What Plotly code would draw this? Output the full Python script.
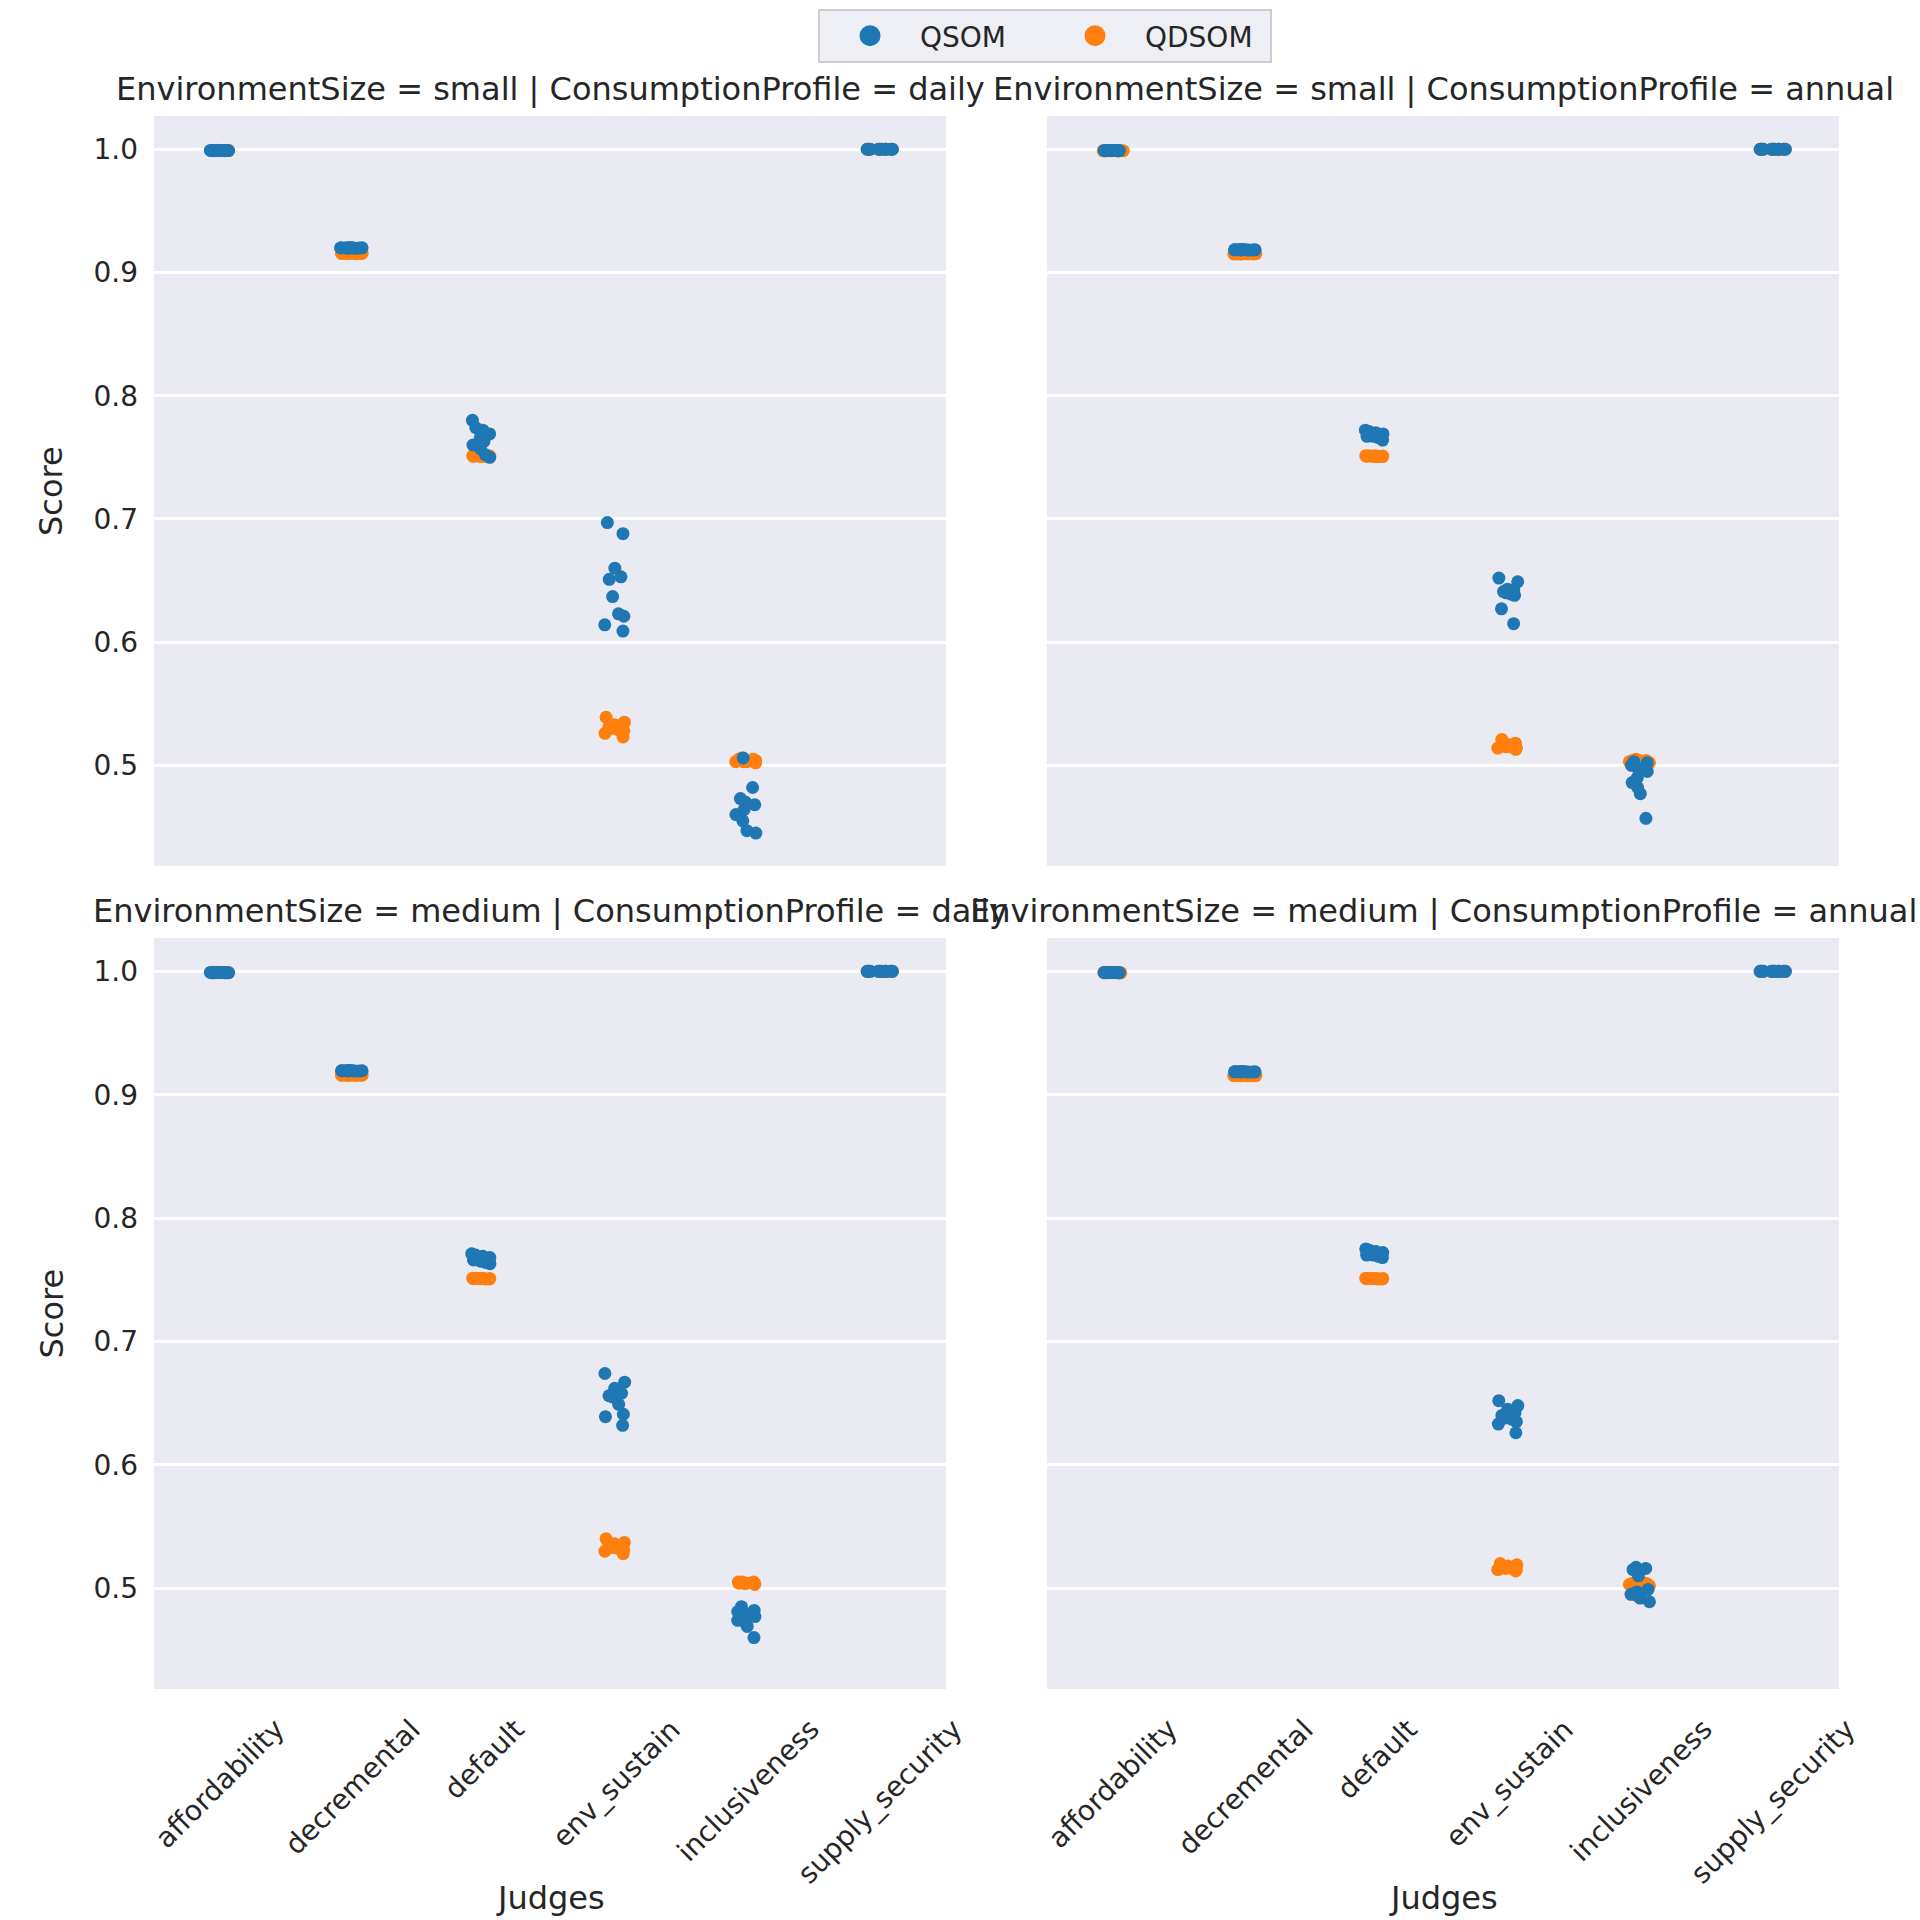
import plotly.graph_objects as go

# ---------------- data ----------------
judges = ["affordability", "decremental", "default", "env_sustain", "inclusiveness", "supply_security"]
algorithms = ["QSOM", "QDSOM"]
panel_titles = [
    "EnvironmentSize = small | ConsumptionProfile = daily",
    "EnvironmentSize = small | ConsumptionProfile = annual",
    "EnvironmentSize = medium | ConsumptionProfile = daily",
    "EnvironmentSize = medium | ConsumptionProfile = annual",
]
y_ticks = [0.5, 0.6, 0.7, 0.8, 0.9, 1.0]
y_tick_labels = ["0.5", "0.6", "0.7", "0.8", "0.9", "1.0"]

small_daily_qsom = {
    "affordability": [0.9990, 0.9989, 0.9991, 0.9990, 0.9988, 0.9990, 0.9991, 0.9989, 0.9990, 0.9988],
    "decremental": [0.9202, 0.9200, 0.9199, 0.9201, 0.9197, 0.9200, 0.9198, 0.9196, 0.9201, 0.9199],
    "default": [0.780, 0.774, 0.772, 0.769, 0.766, 0.763, 0.760, 0.757, 0.752, 0.750],
    "env_sustain": [0.697, 0.688, 0.660, 0.653, 0.651, 0.637, 0.623, 0.621, 0.614, 0.609],
    "inclusiveness": [0.506, 0.482, 0.473, 0.470, 0.468, 0.464, 0.460, 0.455, 0.447, 0.445],
    "supply_security": [1.0, 1.0, 1.0, 1.0, 1.0, 1.0, 1.0, 1.0, 1.0, 1.0],
}
small_daily_qdsom = {
    "affordability": [0.9992, 0.9990, 0.9991, 0.9989, 0.9990, 0.9991, 0.9990, 0.9992, 0.9989, 0.9990],
    "decremental": [0.9156, 0.9154, 0.9157, 0.9155, 0.9153, 0.9156, 0.9155, 0.9154, 0.9157, 0.9155],
    "default": [0.7512, 0.7508, 0.7510, 0.7506, 0.7511, 0.7509, 0.7513, 0.7507, 0.7510, 0.7508],
    "env_sustain": [0.539, 0.535, 0.533, 0.532, 0.531, 0.530, 0.529, 0.528, 0.526, 0.523],
    "inclusiveness": [0.506, 0.505, 0.505, 0.504, 0.504, 0.504, 0.503, 0.503, 0.503, 0.502],
    "supply_security": [1.0, 1.0, 1.0, 1.0, 1.0, 1.0, 1.0, 1.0, 1.0, 1.0],
}
small_annual_qsom = {
    "affordability": [0.9991, 0.9990, 0.9989, 0.9990, 0.9991, 0.9988, 0.9990, 0.9989, 0.9991, 0.9990],
    "decremental": [0.9185, 0.9183, 0.9186, 0.9184, 0.9182, 0.9185, 0.9184, 0.9183, 0.9186, 0.9184],
    "default": [0.772, 0.771, 0.770, 0.769, 0.768, 0.768, 0.767, 0.767, 0.766, 0.764],
    "env_sustain": [0.652, 0.649, 0.643, 0.642, 0.641, 0.640, 0.639, 0.638, 0.627, 0.615],
    "inclusiveness": [0.503, 0.502, 0.500, 0.497, 0.495, 0.490, 0.486, 0.482, 0.477, 0.457],
    "supply_security": [1.0, 1.0, 1.0, 1.0, 1.0, 1.0, 1.0, 1.0, 1.0, 1.0],
}
small_annual_qdsom = {
    "affordability": [0.9986, 0.9988, 0.9987, 0.9989, 0.9986, 0.9988, 0.9987, 0.9989, 0.9988, 0.9987],
    "decremental": [0.9152, 0.9150, 0.9153, 0.9151, 0.9152, 0.9150, 0.9153, 0.9151, 0.9152, 0.9150],
    "default": [0.7512, 0.7508, 0.7510, 0.7506, 0.7511, 0.7509, 0.7513, 0.7507, 0.7510, 0.7508],
    "env_sustain": [0.521, 0.518, 0.517, 0.516, 0.516, 0.515, 0.515, 0.514, 0.514, 0.513],
    "inclusiveness": [0.505, 0.504, 0.504, 0.504, 0.503, 0.503, 0.503, 0.503, 0.502, 0.502],
    "supply_security": [1.0, 1.0, 1.0, 1.0, 1.0, 1.0, 1.0, 1.0, 1.0, 1.0],
}
medium_daily_qsom = {
    "affordability": [0.9990, 0.9989, 0.9991, 0.9990, 0.9988, 0.9990, 0.9991, 0.9989, 0.9990, 0.9988],
    "decremental": [0.9195, 0.9193, 0.9196, 0.9194, 0.9192, 0.9195, 0.9194, 0.9193, 0.9196, 0.9194],
    "default": [0.771, 0.770, 0.769, 0.768, 0.767, 0.767, 0.766, 0.765, 0.764, 0.763],
    "env_sustain": [0.674, 0.667, 0.662, 0.658, 0.656, 0.655, 0.649, 0.641, 0.639, 0.632],
    "inclusiveness": [0.485, 0.482, 0.481, 0.479, 0.477, 0.475, 0.474, 0.473, 0.469, 0.460],
    "supply_security": [1.0, 1.0, 1.0, 1.0, 1.0, 1.0, 1.0, 1.0, 1.0, 1.0],
}
medium_daily_qdsom = {
    "affordability": [0.9992, 0.9990, 0.9991, 0.9989, 0.9990, 0.9991, 0.9990, 0.9992, 0.9989, 0.9990],
    "decremental": [0.9159, 0.9157, 0.9160, 0.9158, 0.9156, 0.9159, 0.9158, 0.9157, 0.9160, 0.9158],
    "default": [0.7512, 0.7508, 0.7510, 0.7506, 0.7511, 0.7509, 0.7513, 0.7507, 0.7510, 0.7508],
    "env_sustain": [0.540, 0.537, 0.536, 0.535, 0.534, 0.533, 0.532, 0.531, 0.530, 0.528],
    "inclusiveness": [0.505, 0.505, 0.504, 0.504, 0.504, 0.504, 0.504, 0.503, 0.505, 0.504],
    "supply_security": [1.0, 1.0, 1.0, 1.0, 1.0, 1.0, 1.0, 1.0, 1.0, 1.0],
}
medium_annual_qsom = {
    "affordability": [0.9991, 0.9990, 0.9989, 0.9990, 0.9991, 0.9988, 0.9990, 0.9989, 0.9991, 0.9990],
    "decremental": [0.9186, 0.9184, 0.9187, 0.9185, 0.9183, 0.9186, 0.9185, 0.9184, 0.9187, 0.9185],
    "default": [0.775, 0.774, 0.773, 0.772, 0.772, 0.771, 0.770, 0.770, 0.769, 0.768],
    "env_sustain": [0.652, 0.648, 0.645, 0.642, 0.640, 0.638, 0.637, 0.635, 0.633, 0.626],
    "inclusiveness": [0.517, 0.516, 0.515, 0.510, 0.499, 0.497, 0.495, 0.494, 0.492, 0.489],
    "supply_security": [1.0, 1.0, 1.0, 1.0, 1.0, 1.0, 1.0, 1.0, 1.0, 1.0],
}
medium_annual_qdsom = {
    "affordability": [0.9989, 0.9988, 0.9990, 0.9989, 0.9988, 0.9990, 0.9989, 0.9988, 0.9990, 0.9989],
    "decremental": [0.9155, 0.9153, 0.9156, 0.9154, 0.9155, 0.9153, 0.9156, 0.9154, 0.9155, 0.9153],
    "default": [0.7512, 0.7508, 0.7510, 0.7506, 0.7511, 0.7509, 0.7513, 0.7507, 0.7510, 0.7508],
    "env_sustain": [0.520, 0.519, 0.518, 0.517, 0.517, 0.516, 0.516, 0.515, 0.515, 0.514],
    "inclusiveness": [0.505, 0.504, 0.504, 0.504, 0.503, 0.503, 0.503, 0.503, 0.502, 0.502],
    "supply_security": [1.0, 1.0, 1.0, 1.0, 1.0, 1.0, 1.0, 1.0, 1.0, 1.0],
}

panels = [
    (small_daily_qsom, small_daily_qdsom),
    (small_annual_qsom, small_annual_qdsom),
    (medium_daily_qsom, medium_daily_qdsom),
    (medium_annual_qsom, medium_annual_qdsom),
]

# ---------------- style / layout ----------------
W = H = 1920
COLORS = {"QSOM": "#1f77b4", "QDSOM": "#ff7f0e"}
BG = "#EAEAF2"
TEXT = "#262626"
FONT = "DejaVu Sans"
TICK_FS = 28
TITLE_FS = 32

# panel pixel boxes (left, right, top, bottom)
px_boxes = [
    (154, 946, 116, 866),
    (1047, 1839, 116, 866),
    (154, 946, 938, 1689),
    (1047, 1839, 938, 1689),
]
Y_RANGE = [0.4183, 1.0270]


def px_x(p):
    return p / W


def px_y(p):
    return 1 - p / H


fig = go.Figure()

for i, (qsom, qdsom) in enumerate(panels):
    ax = "" if i == 0 else str(i + 1)
    # draw QDSOM first so QSOM sits on top, as in the reference
    for algo, data in (("QDSOM", qdsom), ("QSOM", qsom)):
        xs, ys = [], []
        for j in judges:
            xs.extend([j] * len(data[j]))
            ys.extend(data[j])
        fig.add_trace(go.Box(
            x=xs, y=ys, name=algo,
            boxpoints="all", jitter=1, pointpos=0, width=0.2,
            fillcolor="rgba(0,0,0,0)",
            line=dict(color="rgba(0,0,0,0)", width=0),
            marker=dict(color=COLORS[algo], size=13, line=dict(width=0)),
            hoveron="points", showlegend=False,
            xaxis="x" + ax, yaxis="y" + ax,
        ))

# legend entries
for algo in algorithms:
    fig.add_trace(go.Scatter(
        x=[None], y=[None], mode="markers", name=algo,
        marker=dict(color=COLORS[algo], size=16, line=dict(color=COLORS[algo], width=5)),
        showlegend=True, xaxis="x", yaxis="y",
    ))

layout = dict(
    width=W, height=H,
    margin=dict(l=0, r=0, t=0, b=0),
    paper_bgcolor="white",
    plot_bgcolor=BG,
    font=dict(family=FONT, color=TEXT, size=TICK_FS),
    boxmode="overlay",
    showlegend=True,
    legend=dict(
        orientation="h", x=px_x(1045), xanchor="center", y=px_y(9), yanchor="top",
        bgcolor="rgba(234,234,242,0.8)", bordercolor="#cccccc", borderwidth=2,
        font=dict(size=TICK_FS, family=FONT, color=TEXT),
        itemwidth=90, entrywidth=120, itemsizing="trace",
    ),
)

annotations = []
for i, (l, r, t, b) in enumerate(px_boxes):
    ax = "" if i == 0 else str(i + 1)
    layout["xaxis" + ax] = dict(
        domain=[px_x(l), px_x(r)], anchor="y" + ax,
        type="category", categoryorder="array", categoryarray=judges,
        range=[-0.5, len(judges) - 0.5],
        showgrid=False, zeroline=False, showline=False,
        showticklabels=False, ticks="",
    )
    layout["yaxis" + ax] = dict(
        domain=[px_y(b), px_y(t)], anchor="x" + ax,
        range=Y_RANGE,
        tickvals=y_ticks, ticktext=y_tick_labels,
        showticklabels=(i % 2 == 0),
        ticklabelstandoff=15, ticks="",
        tickfont=dict(size=TICK_FS, color=TEXT),
        showgrid=True, gridcolor="white", gridwidth=2.6,
        zeroline=False, showline=False,
    )
    # panel titles
    annotations.append(dict(
        text=panel_titles[i], xref="paper", yref="paper",
        x=px_x((l + r) / 2), y=px_y(t - 27), xanchor="center", yanchor="middle",
        showarrow=False, font=dict(size=TITLE_FS, color=TEXT, family=FONT),
    ))
    # y axis label on left column
    if i % 2 == 0:
        annotations.append(dict(
            text="Score", xref="paper", yref="paper",
            x=px_x(51), y=px_y((t + b) / 2), xanchor="center", yanchor="middle",
            textangle=-90, showarrow=False,
            font=dict(size=TITLE_FS, color=TEXT, family=FONT),
        ))
    # x tick labels + x axis label on bottom row
    if i >= 2:
        for j in judges:
            annotations.append(dict(
                text=j, xref="x" + ax, yref="paper",
                x=j, y=px_y(1710), xanchor="center", yanchor="top",
                textangle=-45, showarrow=False,
                font=dict(size=TICK_FS, color=TEXT, family=FONT),
            ))
        annotations.append(dict(
            text="Judges", xref="paper", yref="paper",
            x=px_x((l + r) / 2), y=px_y(1919), xanchor="center", yanchor="bottom",
            showarrow=False, font=dict(size=TITLE_FS, color=TEXT, family=FONT),
        ))

layout["annotations"] = annotations
fig.update_layout(**layout)

fig.write_html(
    "out.html",
    config={"displayModeBar": False},
    post_script="document.body.style.margin='0';",
)
